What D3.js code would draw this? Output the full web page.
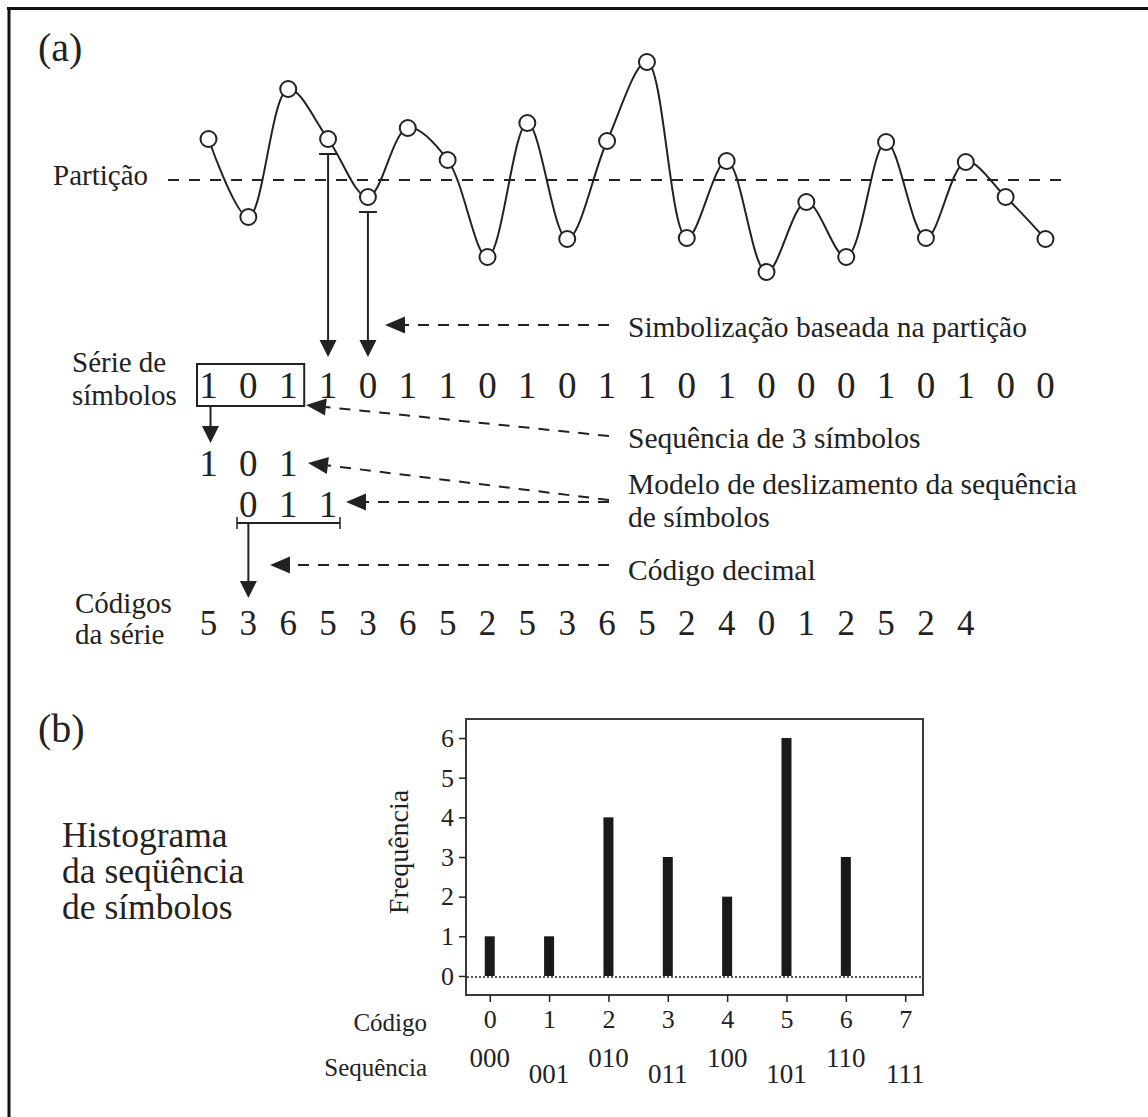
<!DOCTYPE html>
<html>
<head>
<meta charset="utf-8">
<script src="https://cdn.jsdelivr.net/npm/d3@7"></script>
<style>
  body { margin: 0; background: #fff; }
  svg { display: block; }
  text { font-family: "Liberation Serif", "Times New Roman", serif; fill: #222; }
</style>
</head>
<body>
<svg id="fig" width="1148" height="1117"></svg>
<script>
// ---- data ----
// sampled signal, relative to the partition level (0)
const signal = [0.82, -0.74, 1.82, 0.82, -0.34, 1.04, 0.40, -1.54, 1.14, -1.18, 0.78,
                2.36, -1.16, 0.38, -1.84, -0.44, -1.54, 0.76, -1.16, 0.36, -0.34, -1.18];
const partitionLevel = 0;
// symbol series (1 above the partition, 0 below)
const symbols = [1, 0, 1, 1, 0, 1, 1, 0, 1, 0, 1, 1, 0, 1, 0, 0, 0, 1, 0, 1, 0, 0];
// decimal codes of each 3-symbol window
const seriesCodes = [5, 3, 6, 5, 3, 6, 5, 2, 5, 3, 6, 5, 2, 4, 0, 1, 2, 5, 2, 4];
const firstWindow = [1, 0, 1];
const secondWindow = [0, 1, 1];
// histogram
const codeValues = [0, 1, 2, 3, 4, 5, 6, 7];
const sequenceLabels = ["000", "001", "010", "011", "100", "101", "110", "111"];
const frequencies = [1, 1, 4, 3, 2, 6, 3, 0];
const freqTicks = [0, 1, 2, 3, 4, 5, 6];

const ink = "#222";
const svg = d3.select("#fig");

// frame (top and left rules)
svg.append("line").attr("x1", 7).attr("x2", 1148).attr("y1", 8.5).attr("y2", 8.5)
  .attr("stroke", "#111").attr("stroke-width", 3);
svg.append("line").attr("x1", 9).attr("x2", 9).attr("y1", 7).attr("y2", 1117)
  .attr("stroke", "#111").attr("stroke-width", 3);

// ---- panel (a) ----
const x = d3.scaleLinear().domain([0, symbols.length - 1]).range([208.5, 1045.5]);
const y = d3.scaleLinear().domain([-1, 1]).range([230, 130]);

svg.append("text").attr("x", 38).attr("y", 61).attr("font-size", 40).text("(a)");
svg.append("text").attr("x", 53).attr("y", 185).attr("font-size", 29).text("Partição");

svg.append("line")
  .attr("x1", 168).attr("x2", 1063)
  .attr("y1", y(partitionLevel)).attr("y2", y(partitionLevel))
  .attr("stroke", ink).attr("stroke-width", 2).attr("stroke-dasharray", "11,10");

const line = d3.line().x((d, i) => x(i)).y(d => y(d)).curve(d3.curveCatmullRom.alpha(0.5));
svg.append("path").datum(signal).attr("d", line)
  .attr("fill", "none").attr("stroke", ink).attr("stroke-width", 2);

svg.selectAll("circle.pt").data(signal).join("circle").attr("class", "pt")
  .attr("cx", (d, i) => x(i)).attr("cy", d => y(d)).attr("r", 8)
  .attr("fill", "#fff").attr("stroke", ink).attr("stroke-width", 2);

function head(x1, y1, x2, y2, len = 17, half = 8.5) {
  const dx = x2 - x1, dy = y2 - y1, L = Math.hypot(dx, dy);
  const ux = dx / L, uy = dy / L;
  const bx = x2 - ux * len, by = y2 - uy * len;
  svg.append("path")
    .attr("d", `M${x2},${y2}L${bx - uy * half},${by + ux * half}L${bx + uy * half},${by - ux * half}Z`)
    .attr("fill", ink);
  return [bx, by];
}
function solidArrow(x1, y1, x2, y2) {
  const [bx, by] = head(x1, y1, x2, y2);
  svg.append("line").attr("x1", x1).attr("y1", y1).attr("x2", bx).attr("y2", by)
    .attr("stroke", ink).attr("stroke-width", 2);
}
function dashedArrow(x1, y1, x2, y2) {
  const [bx, by] = head(x1, y1, x2, y2, 20, 8.5);
  svg.append("line").attr("x1", x1).attr("y1", y1).attr("x2", bx).attr("y2", by)
    .attr("stroke", ink).attr("stroke-width", 2).attr("stroke-dasharray", "11,9");
}

// symbolisation arrows from samples 4 and 5
[3, 4].forEach(i => {
  const top = y(signal[i]) + 15;
  svg.append("line").attr("x1", x(i) - 9).attr("x2", x(i) + 9).attr("y1", top).attr("y2", top)
    .attr("stroke", ink).attr("stroke-width", 2);
  solidArrow(x(i), top, x(i), 357);
});

// symbol series
svg.append("text").attr("x", 72).attr("y", 372).attr("font-size", 29).text("Série de");
svg.append("text").attr("x", 72).attr("y", 405).attr("font-size", 29).text("símbolos");
svg.selectAll("text.sym").data(symbols).join("text").attr("class", "sym")
  .attr("x", (d, i) => x(i)).attr("y", 398).attr("font-size", 37)
  .attr("text-anchor", "middle").text(d => d);

svg.append("rect").attr("x", x(0) - 11.5).attr("y", 364)
  .attr("width", x(2) + 16 - (x(0) - 11.5)).attr("height", 42)
  .attr("fill", "none").attr("stroke", ink).attr("stroke-width", 2);
solidArrow(x(0) + 2, 406, x(0) + 2, 443);

svg.selectAll("text.w1").data(firstWindow).join("text").attr("class", "w1")
  .attr("x", (d, i) => x(i)).attr("y", 476).attr("font-size", 37)
  .attr("text-anchor", "middle").text(d => d);
svg.selectAll("text.w2").data(secondWindow).join("text").attr("class", "w2")
  .attr("x", (d, i) => x(i + 1)).attr("y", 517).attr("font-size", 37)
  .attr("text-anchor", "middle").text(d => d);

// bracket under the second window
svg.append("line").attr("x1", 237).attr("x2", 340).attr("y1", 523).attr("y2", 523)
  .attr("stroke", ink).attr("stroke-width", 2);
[237, 340].forEach(v => svg.append("line").attr("x1", v).attr("x2", v).attr("y1", 517).attr("y2", 529)
  .attr("stroke", ink).attr("stroke-width", 1.5));
solidArrow(x(1), 523, x(1), 598);

// code series
svg.append("text").attr("x", 75).attr("y", 613).attr("font-size", 29).text("Códigos");
svg.append("text").attr("x", 75).attr("y", 644).attr("font-size", 29).text("da série");
svg.selectAll("text.code").data(seriesCodes).join("text").attr("class", "code")
  .attr("x", (d, i) => x(i)).attr("y", 635).attr("font-size", 35)
  .attr("text-anchor", "middle").text(d => d);

// annotations
dashedArrow(609, 325, 385, 325);
dashedArrow(609, 436, 306, 405);
dashedArrow(609, 500, 308, 463);
dashedArrow(609, 502, 346, 502);
dashedArrow(609, 565, 270, 565);
const notes = [
  [337, "Simbolização baseada na partição"],
  [448, "Sequência de 3 símbolos"],
  [494, "Modelo de deslizamento da sequência"],
  [527, "de símbolos"],
  [580, "Código decimal"]
];
notes.forEach(([yy, t]) => svg.append("text").attr("x", 628).attr("y", yy).attr("font-size", 29.5).text(t));

// ---- panel (b) ----
svg.append("text").attr("x", 38).attr("y", 742).attr("font-size", 40).text("(b)");
["Histograma", "da seqüência", "de símbolos"].forEach((t, i) =>
  svg.append("text").attr("x", 62).attr("y", 847 + i * 36).attr("font-size", 35.5).text(t));

const hx = d3.scaleLinear().domain([-0.4, 7.3]).range([466, 923]);
const hy = d3.scaleLinear().domain([-0.48, 6.48]).range([995, 719]);

svg.append("rect").attr("x", 466).attr("y", 719).attr("width", 457).attr("height", 276)
  .attr("fill", "none").attr("stroke", "#3a3a3a").attr("stroke-width", 2);

svg.append("line").attr("x1", 467).attr("x2", 922).attr("y1", hy(0) + 1).attr("y2", hy(0) + 1)
  .attr("stroke", ink).attr("stroke-width", 1.5).attr("stroke-dasharray", "2,2");

svg.selectAll("rect.bar").data(frequencies).join("rect").attr("class", "bar")
  .attr("x", (d, i) => hx(codeValues[i]) - 5).attr("width", 10)
  .attr("y", d => hy(d)).attr("height", d => hy(0) - hy(d))
  .attr("fill", "#1a1a1a");

const yAxis = svg.append("g").attr("transform", "translate(466,0)")
  .call(d3.axisLeft(hy).tickValues(freqTicks).tickSize(7).tickPadding(5).tickFormat(d3.format("d")));
yAxis.select(".domain").remove();
yAxis.selectAll("line").attr("stroke", ink).attr("stroke-width", 1.5);
yAxis.selectAll("text").attr("font-size", 26).attr("font-family", null).attr("fill", ink);

const xAxis = svg.append("g").attr("transform", "translate(0,995)")
  .call(d3.axisBottom(hx).tickValues(codeValues).tickSize(7).tickPadding(8).tickFormat(d3.format("d")));
xAxis.select(".domain").remove();
xAxis.selectAll("line").attr("stroke", ink).attr("stroke-width", 1.5);
xAxis.selectAll("text").attr("font-size", 26).attr("font-family", null).attr("fill", ink);

svg.selectAll("text.seq").data(sequenceLabels).join("text").attr("class", "seq")
  .attr("x", (d, i) => hx(codeValues[i])).attr("y", (d, i) => i % 2 ? 1083 : 1067)
  .attr("font-size", 27).attr("text-anchor", "middle").text(d => d);

svg.append("text").attr("x", 427).attr("y", 1031).attr("font-size", 25)
  .attr("text-anchor", "end").text("Código");
svg.append("text").attr("x", 427).attr("y", 1076).attr("font-size", 25)
  .attr("text-anchor", "end").text("Sequência");

svg.append("text").attr("transform", "translate(408,852) rotate(-90)")
  .attr("font-size", 28).attr("text-anchor", "middle").text("Frequência");
</script>
</body>
</html>
